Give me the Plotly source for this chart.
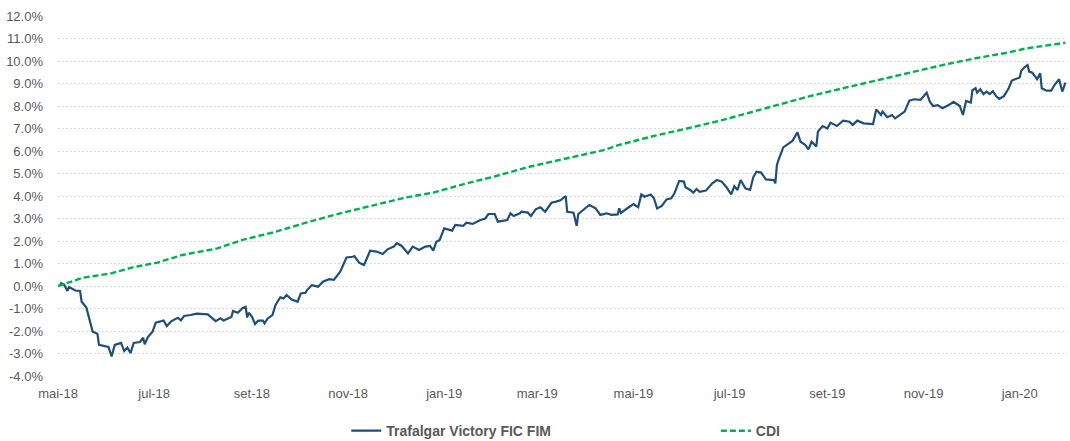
"""Trafalgar Victory FIC FIM vs CDI - accumulated return."""

from datetime import date, timedelta
import plotly.graph_objects as go

START = date(2018, 5, 1)

# days since START / accumulated return (%)
fund_days = [
    1, 2, 4, 6, 7, 11, 14, 15, 18, 22, 25, 26, 32, 34, 36, 40, 42, 44, 46, 48,
    52, 54, 55, 57, 60, 62, 67, 69, 72, 76, 78, 80, 84, 88, 95, 100, 103, 105,
    110, 111, 114, 117, 119, 120, 121, 123, 125, 127, 130, 131, 133, 136, 138,
    141, 143, 145, 148, 152, 154, 157, 158, 161, 165, 168, 172, 175, 179, 181,
    183, 187, 188, 191, 194, 195, 198, 202, 206, 209, 213, 215, 218, 222, 225,
    229, 233, 236, 238, 240, 242, 245, 248, 250, 252, 257, 259, 263, 268, 271,
    273, 277, 279, 285, 287, 289, 293, 294, 298, 300, 303, 306, 309, 313, 316,
    319, 322, 323, 327, 329, 330, 333, 337, 341, 344, 348, 351, 355, 356, 357,
    360, 362, 365, 368, 370, 372, 376, 378, 380, 383, 386, 389, 391, 394, 397,
    398, 401, 403, 405, 407, 411, 415, 418, 421, 424, 427, 429, 431, 433, 436,
    439, 441, 443, 446, 449, 454, 455, 456, 457, 460, 463, 466, 469, 471, 474,
    476, 478, 481, 482, 485, 488, 490, 494, 498, 502, 504, 507, 511, 517, 519,
    522, 523, 526, 529, 531, 535, 537, 540, 543, 547, 549, 551, 553, 555, 558,
    561, 565, 568, 572, 574, 576, 579, 580, 582, 583, 585, 587, 589, 591, 593,
    595, 597, 600, 603, 605, 608, 610, 611, 613, 615, 616, 618, 621, 623, 624,
    627, 630, 632, 635, 637, 639,
]
fund = [
    0.00, 0.12, 0.05, -0.22, -0.05, -0.20, -0.22, -0.70, -0.96, -2.03, -2.12,
    -2.62, -2.71, -3.13, -2.62, -2.53, -2.89, -2.74, -2.98, -2.53, -2.49, -2.30,
    -2.59, -2.27, -2.03, -1.63, -1.53, -1.78, -1.56, -1.41, -1.53, -1.33, -1.29,
    -1.23, -1.26, -1.56, -1.44, -1.53, -1.38, -1.11, -1.19, -0.99, -0.93, -1.40,
    -1.19, -1.36, -1.69, -1.54, -1.54, -1.66, -1.44, -1.29, -0.84, -0.50, -0.55,
    -0.40, -0.59, -0.70, -0.33, -0.30, -0.18, 0.04, -0.03, 0.19, 0.30, 0.27,
    0.64, 0.93, 1.27, 1.30, 1.33, 1.04, 0.93, 1.08, 1.57, 1.53, 1.42, 1.63,
    1.75, 1.90, 1.78, 1.45, 1.75, 1.60, 1.75, 1.78, 1.57, 1.97, 2.04, 2.56,
    2.52, 2.46, 2.71, 2.67, 2.81, 2.76, 2.93, 3.00, 3.20, 3.20, 2.86, 2.93,
    3.23, 3.11, 3.23, 3.30, 3.26, 3.11, 3.41, 3.50, 3.30, 3.70, 3.75, 3.82,
    4.00, 3.30, 3.26, 2.67, 3.20, 3.38, 3.60, 3.45, 3.16, 3.23, 3.16, 3.18,
    3.45, 3.25, 3.42, 3.50, 3.64, 3.50, 4.07, 3.97, 4.07, 3.90, 3.45, 3.56,
    3.85, 3.90, 4.12, 4.67, 4.64, 4.39, 4.27, 4.15, 4.31, 4.19, 4.24, 4.56,
    4.71, 4.64, 4.39, 4.07, 4.44, 4.27, 4.71, 4.34, 4.27, 4.83, 5.08, 5.04,
    4.74, 4.71, 4.56, 5.38, 5.60, 6.16, 6.31, 6.46, 6.83, 6.41, 6.27, 6.07,
    6.41, 6.20, 6.86, 7.11, 7.00, 7.26, 7.11, 7.35, 7.30, 7.16, 7.35, 7.23,
    7.20, 7.85, 7.60, 7.75, 7.50, 7.60, 7.45, 7.64, 7.75, 8.24, 8.30, 8.27,
    8.41, 8.59, 8.19, 8.00, 8.04, 7.90, 8.04, 8.19, 8.00, 7.60, 8.22, 8.15,
    8.70, 8.79, 8.59, 8.74, 8.53, 8.64, 8.53, 8.66, 8.44, 8.32, 8.44, 8.79,
    9.13, 9.23, 9.27, 9.57, 9.72, 9.82, 9.53, 9.48, 9.19, 9.45, 8.79, 8.68,
    8.68, 8.93, 9.19, 8.64, 9.04,
]

cdi_days = [
    0, 16, 33, 48, 63, 79, 101, 117, 137, 158, 179, 200, 221, 238, 257, 278,
    299, 320, 346, 356, 378, 399, 420, 441, 462, 477, 498, 519, 540, 561, 582,
    602, 614, 639,
]
cdi = [
    0.00, 0.37, 0.55, 0.84, 1.04, 1.38, 1.67, 2.05, 2.39, 2.83, 3.23, 3.60,
    3.94, 4.15, 4.52, 4.89, 5.30, 5.63, 6.04, 6.27, 6.67, 7.00, 7.35, 7.75,
    8.15, 8.44, 8.79, 9.13, 9.48, 9.82, 10.12, 10.37, 10.56, 10.81,
]

x_ticks = [
    "2018-05-01", "2018-07-01", "2018-09-01", "2018-11-01", "2019-01-01",
    "2019-03-01", "2019-05-01", "2019-07-01", "2019-09-01", "2019-11-01",
    "2020-01-01",
]
x_labels = [
    "mai-18", "jul-18", "set-18", "nov-18", "jan-19", "mar-19", "mai-19",
    "jul-19", "set-19", "nov-19", "jan-20",
]
y_ticks = list(range(-4, 13))
y_labels = [f"{v:.1f}%" for v in y_ticks]

FONT = "Liberation Sans, Arial, sans-serif"
GREY = "#595959"
LEGEND_FONT = dict(family=FONT, size=14, color=GREY, weight="bold")


def to_dates(days):
    return [START + timedelta(days=d) for d in days]


fig = go.Figure()
fig.add_trace(go.Scatter(
    x=to_dates(fund_days), y=fund, mode="lines",
    name="Trafalgar Victory FIC FIM", legend="legend",
    line=dict(color="#1F4E79", width=2.2)))
fig.add_trace(go.Scatter(
    x=to_dates(cdi_days), y=cdi, mode="lines", name="CDI", legend="legend2",
    line=dict(color="#00B050", width=2.4, dash="6px,3px")))

fig.update_layout(
    width=1070, height=441,
    margin=dict(l=58, r=3, t=16, b=65, autoexpand=False),
    paper_bgcolor="white", plot_bgcolor="white",
    font=dict(family=FONT, size=13, color=GREY),
    showlegend=True,
    legend=dict(orientation="h", x=0.2857, xanchor="left",
                y=-0.153, yanchor="middle", font=LEGEND_FONT),
    legend2=dict(orientation="h", x=0.652, xanchor="left",
                 y=-0.153, yanchor="middle", font=LEGEND_FONT),
)
fig.update_xaxes(
    range=["2018-05-01", "2020-01-31"],
    tickvals=x_ticks, ticktext=x_labels, automargin=False,
    showgrid=False, zeroline=False, showline=False, ticks="",
    ticklabelstandoff=8)
fig.update_yaxes(
    range=[-4, 12], tickvals=y_ticks, ticktext=y_labels, automargin=False,
    showgrid=True, gridcolor="#D9D9D9", gridwidth=1, griddash="2px,2px",
    zeroline=False, showline=False, ticks="", ticklabelstandoff=14)

# drop the default page margin so the figure fills the window exactly
fig.write_html("out.html", config={"displayModeBar": False},
               post_script="document.body.style.margin = '0';")
